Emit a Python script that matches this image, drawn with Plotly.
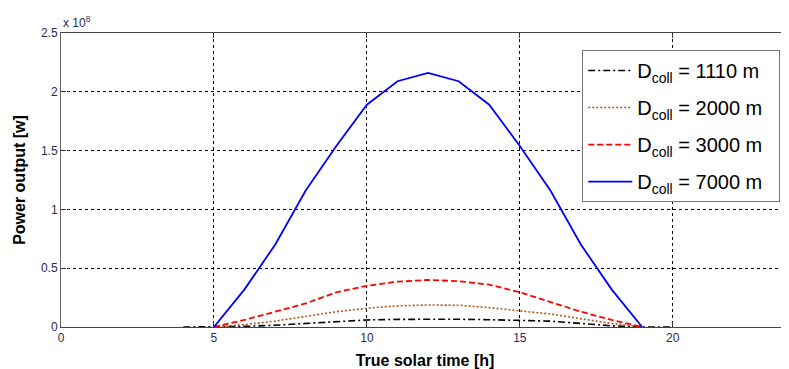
import plotly.graph_objects as go

# Data (power in units of 1e8 W)
hours = [5, 6, 7, 8, 9, 10, 11, 12, 13, 14, 15, 16, 17, 18, 19]
hours_black = [4] + hours + [20]
p_1110 = [0, 0, 0.005, 0.015, 0.03, 0.045, 0.06, 0.065, 0.068, 0.066, 0.062, 0.058, 0.05, 0.03, 0.01, 0, 0]
p_2000 = [0, 0.02, 0.05, 0.09, 0.13, 0.16, 0.18, 0.187, 0.185, 0.165, 0.136, 0.11, 0.07, 0.03, 0]
p_3000 = [0, 0.06, 0.13, 0.20, 0.295, 0.35, 0.385, 0.40, 0.39, 0.36, 0.295, 0.215, 0.13, 0.06, 0]
p_7000 = [0, 0.32, 0.70, 1.16, 1.54, 1.89, 2.09, 2.16, 2.09, 1.89, 1.54, 1.16, 0.70, 0.32, 0]

x_ticks = [0, 5, 10, 15, 20]
y_ticks = [0, 0.5, 1, 1.5, 2, 2.5]
y_ticktext = ["0", "0.5", "1", "1.5", "2", "2.5"]
names = ["D<sub>coll</sub> = 1110 m", "D<sub>coll</sub> = 2000 m",
         "D<sub>coll</sub> = 3000 m", "D<sub>coll</sub> = 7000 m"]
pad = "&nbsp;&nbsp;"

fig = go.Figure()
fig.add_trace(go.Scatter(x=hours_black, y=p_1110, mode="lines", name=names[0] + pad,
                         line=dict(color="black", width=1.6, dash="7px,3px,2px,3px"), legendgroup="a"))
fig.add_trace(go.Scatter(x=hours, y=p_2000, mode="lines", name=names[1] + pad,
                         line=dict(color="#b0561a", width=1.6, dash="2px,2px"), legendgroup="b"))
fig.add_trace(go.Scatter(x=hours, y=p_3000, mode="lines", name=names[2] + pad,
                         line=dict(color="#ff0000", width=1.8, dash="6px,3px"), legendgroup="c"))
fig.add_trace(go.Scatter(x=hours, y=p_7000, mode="lines", name=names[3] + pad,
                         line=dict(color="#0000ff", width=1.8), legendgroup="d"))

tickfont = dict(family="Liberation Sans, Arial", size=12, color="#2b2b55")
fig.update_layout(
    width=781, height=361,
    margin=dict(l=53, r=0, t=25, b=42),
    plot_bgcolor="white", paper_bgcolor="white",
    xaxis=dict(range=[0, 23.8], tickvals=x_ticks, ticks="inside", ticklen=5, tickcolor="#333",
               showline=True, linecolor="#444", linewidth=1, mirror="ticks", automargin=False,
               showgrid=True, gridcolor="black", gridwidth=1, griddash="3px,3px",
               zeroline=False, tickfont=tickfont,
               title=dict(text="<b>True solar time [h]</b>", standoff=10,
                          font=dict(family="Liberation Sans, Arial", size=16, color="black"))),
    yaxis=dict(range=[0, 2.5], tickvals=y_ticks, ticktext=y_ticktext, ticks="inside", ticklen=5,
               tickcolor="#333", showline=True, linecolor="#666", linewidth=1, automargin=False,
               showgrid=True, gridcolor="black", gridwidth=1, griddash="3px,3px",
               zeroline=False, tickfont=tickfont,
               title=dict(text="<b>Power output [w]</b>", standoff=11,
                          font=dict(family="Liberation Sans, Arial", size=16, color="black"))),
    legend=dict(x=0.716, xanchor="left", y=0.942, yanchor="top",
                bgcolor="white", bordercolor="#777", borderwidth=1, itemwidth=44,
                font=dict(family="Liberation Sans, Arial", size=20, color="black"),
                tracegroupgap=8),
    annotations=[dict(x=0, y=1, xref="paper", yref="paper", xanchor="left", yanchor="bottom",
                      text="x 10<sup>8</sup>", showarrow=False, yshift=1,
                      font=dict(family="Liberation Sans, Arial", size=12, color="#2b2b55"))],
)

fig.write_html("out.html")
